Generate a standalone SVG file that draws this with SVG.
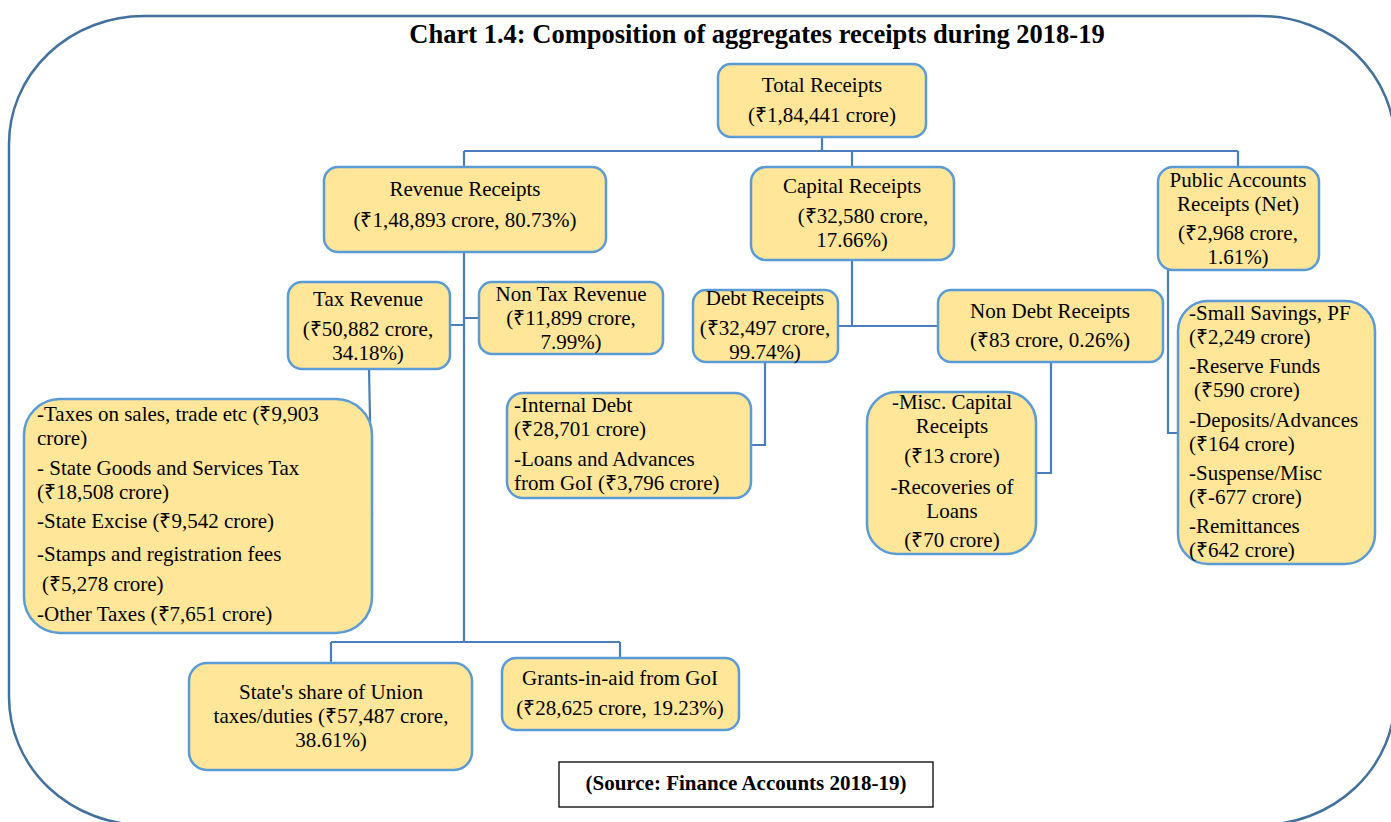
<svg xmlns="http://www.w3.org/2000/svg" width="1391" height="822" viewBox="0 0 1391 822">
<style>
.frame{fill:none;stroke:#41719C;stroke-width:2.5}
.box{fill:#FFE699;stroke:#5B9BD5;stroke-width:2.5}
.con{fill:none;stroke:#4A7EBB;stroke-width:2.2}
text{font-family:"Liberation Serif","Times New Roman",serif;font-size:21px;fill:#000}
.c{text-anchor:middle}
.title{font-size:26.5px;font-weight:bold}
.src{font-weight:bold;font-size:21px}
</style>
<rect class="frame" x="9" y="16" width="1386" height="809" rx="135" ry="128"/>
<text class="title c" x="757" y="43">Chart 1.4: Composition of aggregates receipts during 2018-19</text>
<g id="connectors">
<path class="con" d="M822 137V151M464 151H1238M464 151V167M852 151V167M1238 151V167"/>
<path class="con" d="M464 252V642M450 325H464M464 318H479M331 642H620M331 642V663M620 642V658"/>
<path class="con" d="M369 369L372 515"/>
<path class="con" d="M852 260V326M838 326H938"/>
<path class="con" d="M765 362V445H751"/>
<path class="con" d="M1051 362V473H1036"/>
<path class="con" d="M1168 270V433H1178"/>
</g>
<g id="total">
<rect class="box" x="718" y="64" width="208" height="73" rx="13"/>
<text class="c" x="822" y="92">Total Receipts</text>
<text class="c" x="822" y="122">(₹1,84,441 crore)</text>
</g>
<g id="revenue">
<rect class="box" x="324" y="167" width="282" height="85" rx="14"/>
<text class="c" x="465" y="196">Revenue Receipts</text>
<text class="c" x="465" y="227">(₹1,48,893 crore, 80.73%)</text>
</g>
<g id="capital">
<rect class="box" x="751" y="167" width="203" height="93" rx="15"/>
<text class="c" x="852" y="193">Capital Receipts</text>
<text class="c" x="863" y="223">(₹32,580 crore,</text>
<text class="c" x="852" y="247">17.66%)</text>
</g>
<g id="public">
<rect class="box" x="1158" y="167" width="161" height="103" rx="15"/>
<text class="c" x="1238" y="187">Public Accounts</text>
<text class="c" x="1238" y="211">Receipts (Net)</text>
<text class="c" x="1238" y="240">(₹2,968 crore,</text>
<text class="c" x="1238" y="264">1.61%)</text>
</g>
<g id="tax">
<rect class="box" x="288" y="282" width="162" height="87" rx="14"/>
<text class="c" x="368" y="306">Tax Revenue</text>
<text class="c" x="368" y="336">(₹50,882 crore,</text>
<text class="c" x="368" y="360">34.18%)</text>
</g>
<g id="nontax">
<rect class="box" x="479" y="282" width="184" height="72" rx="13"/>
<text class="c" x="571" y="301">Non Tax Revenue</text>
<text class="c" x="571" y="325">(₹11,899 crore,</text>
<text class="c" x="571" y="349">7.99%)</text>
</g>
<g id="debt">
<rect class="box" x="693" y="290" width="145" height="72" rx="13"/>
<text class="c" x="765" y="305">Debt Receipts</text>
<text class="c" x="765" y="335">(₹32,497 crore,</text>
<text class="c" x="765" y="359">99.74%)</text>
</g>
<g id="nondebt">
<rect class="box" x="938" y="290" width="225" height="72" rx="13"/>
<text class="c" x="1050" y="318">Non Debt Receipts</text>
<text class="c" x="1050" y="347">(₹83 crore, 0.26%)</text>
</g>
<g id="taxdetails">
<rect class="box" x="24" y="399" width="348" height="234" rx="36"/>
<text x="37" y="421">-Taxes on sales, trade etc (₹9,903</text>
<text x="37" y="445">crore)</text>
<text x="37" y="475">- State Goods and Services Tax</text>
<text x="37" y="499">(₹18,508 crore)</text>
<text x="37" y="528">-State Excise (₹9,542 crore)</text>
<text x="37" y="561">-Stamps and registration fees</text>
<text x="42" y="591">(₹5,278 crore)</text>
<text x="37" y="621">-Other Taxes (₹7,651 crore)</text>
</g>
<g id="debtdetails">
<rect class="box" x="507" y="393" width="244" height="105" rx="16"/>
<text x="514" y="412">-Internal Debt</text>
<text x="514" y="436">(₹28,701 crore)</text>
<text x="514" y="466">-Loans and Advances</text>
<text x="514" y="490">from GoI (₹3,796 crore)</text>
</g>
<g id="miscdetails">
<rect class="box" x="867" y="392" width="169" height="162" rx="30"/>
<text class="c" x="952" y="409">-Misc. Capital</text>
<text class="c" x="952" y="433">Receipts</text>
<text class="c" x="952" y="463">(₹13 crore)</text>
<text class="c" x="952" y="494">-Recoveries of</text>
<text class="c" x="952" y="518">Loans</text>
<text class="c" x="952" y="547">(₹70 crore)</text>
</g>
<g id="publicdetails">
<rect class="box" x="1178" y="301" width="197" height="263" rx="30"/>
<text x="1189" y="320">-Small Savings, PF</text>
<text x="1189" y="344">(₹2,249 crore)</text>
<text x="1189" y="373">-Reserve Funds</text>
<text x="1194" y="397">(₹590 crore)</text>
<text x="1189" y="427">-Deposits/Advances</text>
<text x="1189" y="451">(₹164 crore)</text>
<text x="1189" y="480">-Suspense/Misc</text>
<text x="1189" y="504">(₹-677 crore)</text>
<text x="1189" y="533">-Remittances</text>
<text x="1189" y="557">(₹642 crore)</text>
</g>
<g id="share">
<rect class="box" x="189" y="663" width="283" height="107" rx="18"/>
<text class="c" x="331" y="699">State's share of Union</text>
<text class="c" x="331" y="723">taxes/duties (₹57,487 crore,</text>
<text class="c" x="331" y="747">38.61%)</text>
</g>
<g id="grants">
<rect class="box" x="502" y="658" width="237" height="72" rx="14"/>
<text class="c" x="620" y="685">Grants-in-aid from GoI</text>
<text class="c" x="620" y="715">(₹28,625 crore, 19.23%)</text>
</g>
<g id="source">
<rect x="559" y="762" width="374" height="45" fill="#fff" stroke="#000" stroke-width="1.3"/>
<text class="c src" x="746" y="790">(Source: Finance Accounts 2018-19)</text>
</g>
</svg>
